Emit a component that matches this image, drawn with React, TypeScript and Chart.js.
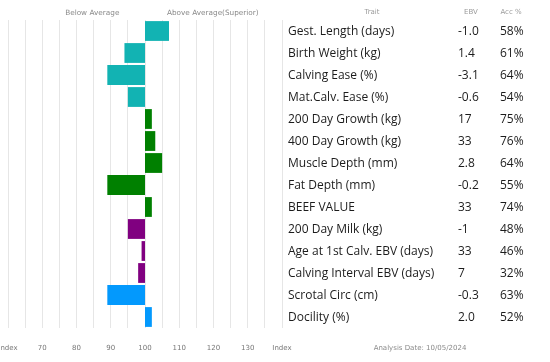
import React, { useEffect, useRef } from "react";
import Chart from "chart.js/auto";

const traits = [
  "Gest. Length (days)",
  "Birth Weight (kg)",
  "Calving Ease (%)",
  "Mat.Calv. Ease (%)",
  "200 Day Growth (kg)",
  "400 Day Growth (kg)",
  "Muscle Depth (mm)",
  "Fat Depth (mm)",
  "BEEF VALUE",
  "200 Day Milk (kg)",
  "Age at 1st Calv. EBV (days)",
  "Calving Interval EBV (days)",
  "Scrotal Circ (cm)",
  "Docility (%)",
];
const indexValues = [107, 94, 89, 95, 102, 103, 105, 89, 102, 95, 99, 98, 89, 102];
const ebvValues = ["-1.0", "1.4", "-3.1", "-0.6", "17", "33", "2.8", "-0.2", "33", "-1", "33", "7", "-0.3", "2.0"];
const accValues = ["58%", "61%", "64%", "54%", "75%", "76%", "64%", "55%", "74%", "48%", "46%", "32%", "63%", "52%"];
const groupColors = [
  "#12b3b3", "#12b3b3", "#12b3b3", "#12b3b3",
  "#008000", "#008000", "#008000", "#008000", "#008000",
  "#800080", "#800080", "#800080",
  "#0399fd", "#0399fd",
];
const baseIndex = 100;
const axisMin = 60;
const axisMax = 140;
const headerLabels = ["Below Average", "Above Average(Superior)"];
const tableHeaders = ["Trait", "EBV", "Acc %"];
const analysisDate = "Analysis Date: 10/05/2024";

export default function App() {
  const ref = useRef<HTMLCanvasElement | null>(null);
  useEffect(() => {
    document.body.style.margin = "0";
    const canvas = ref.current!;
    const tablePlugin = {
      id: "tablePlugin",
      afterDraw(chart: any) {
        const ctx = chart.ctx;
        const x = chart.scales.x;
        const y = chart.scales.y;
        ctx.save();
        ctx.textBaseline = "middle";
        ctx.font = "7.3px 'DejaVu Sans'";
        ctx.fillStyle = "#8a8a8a";
        ctx.textAlign = "center";
        ctx.fillText(headerLabels[0], x.getPixelForValue(84.6), 13);
        ctx.fillText(headerLabels[1], x.getPixelForValue(119.8), 13);
        ctx.font = "7px 'DejaVu Sans'";
        ctx.fillStyle = "#9a9a9a";
        ctx.fillText(tableHeaders[0], 372, 12);
        ctx.fillText(tableHeaders[1], 471, 12);
        ctx.fillText(tableHeaders[2], 511, 12);
        ctx.font = "12px 'Open Sans'";
        ctx.fillStyle = "#1c1c1c";
        ctx.textAlign = "left";
        traits.forEach((t, i) => {
          const py = y.getPixelForValue(i) + 0.5;
          ctx.fillText(t, 288, py);
          ctx.fillText(ebvValues[i], 458, py);
          ctx.fillText(accValues[i], 500, py);
        });
        ctx.font = "7px 'DejaVu Sans'";
        ctx.fillStyle = "#8a8a8a";
        ctx.textAlign = "center";
        ctx.fillText(analysisDate, 420, 348);
        ctx.restore();
      },
    };
    const chart = new Chart(canvas, {
      type: "bar",
      data: {
        labels: traits,
        datasets: [
          {
            data: indexValues.map((v) => [baseIndex, v]) as any,
            backgroundColor: groupColors,
            borderWidth: 0,
            barPercentage: 0.9,
            categoryPercentage: 1,
          },
        ],
      },
      options: {
        indexAxis: "y",
        animation: false,
        responsive: false,
        maintainAspectRatio: false,
        layout: { padding: { left: 8, right: 268, top: 20, bottom: 0 } },
        plugins: { legend: { display: false }, tooltip: { enabled: false } },
        scales: {
          x: {
            min: axisMin,
            max: axisMax,
            grid: { color: "#e6e6e6", drawTicks: false, lineWidth: 1 },
            border: { display: false },
            ticks: {
              stepSize: 5,
              autoSkip: false,
              maxRotation: 0,
              padding: 16,
              color: "#777",
              font: { family: "'DejaVu Sans'", size: 7 },
              callback: (v: any) => {
                const n = Number(v);
                if (n === axisMin || n === axisMax) return "Index";
                return n % 10 === 0 ? String(n) : "";
              },
            },
            afterFit: (s: any) => {
              s.paddingLeft = 0;
              s.paddingRight = 0;
              s.height = 34;
            },
          },
          y: { display: false },
        },
      },
      plugins: [tablePlugin],
    });
    return () => chart.destroy();
  }, []);
  return (
    <div style={{ position: "relative", width: 550, height: 362 }}>
      <canvas ref={ref} width={550} height={362} style={{ display: "block" }} />
    </div>
  );
}
